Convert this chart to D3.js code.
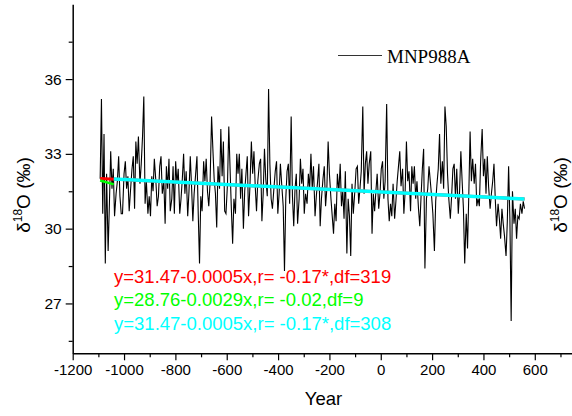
<!DOCTYPE html>
<html lang="en">
<head>
<meta charset="UTF-8">
<title>MNP988A</title>
<script src="https://cdn.jsdelivr.net/npm/d3@7/dist/d3.min.js"></script>
<style>
  body { margin: 0; background: #fff; }
  svg { display: block; }
</style>
</head>
<body>
<svg id="mainsvg" width="572" height="416"></svg>
<script>
// sample years
const years = [
  -1093,-1088,-1083,-1078,-1073,-1068, -1062,-1057,-1052,-1047,-1042,-1037,
  -1031,-1026,-1021,-1016,-1011,-1006, -1000,-995,-990,-985,-980,-975,
  -969,-964,-959,-954,-949,-944, -938,-933,-928,-923,-918,-913,
  -907,-902,-897,-892,-887,-882, -876,-871,-866,-861,-856,-851,
  -845,-840,-835,-830,-825,-820, -814,-809,-804,-799,-794,-789,
  -783,-778,-773,-768,-763,-758, -752,-747,-742,-737,-732,-727,
  -721,-716,-711,-706,-701,-696, -690,-685,-680,-675,-670,-665,
  -659,-654,-649,-644,-639,-634, -628,-623,-618,-613,-608,-603,
  -597,-592,-587,-582,-577,-572, -566,-561,-556,-551,-546,-541,
  -535,-530,-525,-520,-515,-510, -504,-499,-494,-489,-484,-479,
  -473,-468,-463,-458,-453,-448, -442,-437,-432,-427,-422,-417,
  -411,-406,-401,-396,-391,-386, -380,-375,-370,-365,-360,-355,
  -349,-344,-339,-334,-329,-324, -318,-313,-308,-303,-298,-293,
  -287,-282,-277,-272,-267,-262, -256,-251,-246,-241,-236,-231,
  -225,-220,-215,-210,-205,-200, -194,-189,-184,-179,-174,-169,
  -163,-158,-153,-148,-143,-138, -132,-127,-122,-117,-112,-107,
  -101,-96,-91,-86,-81,-76, -70,-65,-60,-55,-50,-45,
  -39,-34,-29,-24,-19,-14, -8,-3,2,7,12,17,
  23,28,33,38,43,48, 54,59,64,69,74,79,
  85,90,95,100,105,110, 116,121,126,131,136,141,
  147,152,157,162,167,172, 178,183,188,193,198,203,
  209,214,219,224,229,234, 240,245,250,255,260,265,
  271,276,281,286,291,296, 302,307,312,317,322,327,
  333,338,343,348,353,358, 364,369,374,379,384,389,
  395,400,405,410,415,420, 426,431,436,441,446,451,
  457,462,467,472,477,482, 488,493,498,503,508,513,
  519,524,529,534,539,544, 550,555,560
]

// d18O values (per mil)
const d18O = [
  32.0, 35.2, 30.6, 33.8, 28.6, 32.2, 29.1, 31.0, 33.1, 31.6,
  32.4, 30.5, 31.4, 31.9, 32.9, 31.3, 30.6, 30.6, 32.2, 32.7,
  31.6, 32.1, 30.7, 31.5, 32.4, 32.9, 30.8, 33.5, 32.6, 33.7,
  31.8, 32.6, 33.7, 35.3, 31.0, 31.9, 30.6, 31.3, 30.5, 32.1,
  31.5, 32.8, 31.9, 30.9, 31.3, 32.5, 32.9, 31.4, 31.9, 30.2,
  32.5, 31.6, 32.8, 30.7, 31.2, 32.5, 30.6, 32.7, 31.8, 32.4,
  30.6, 31.2, 32.0, 33.0, 31.4, 32.3, 30.5, 31.5, 32.9, 31.7,
  30.3, 31.4, 32.2, 32.9, 30.6, 28.6, 31.3, 30.7, 32.7, 31.9,
  32.8, 31.5, 30.9, 31.8, 34.5, 33.2, 32.0, 31.4, 30.05, 32.5,
  31.6, 34.0, 32.1, 33.5, 30.7, 30.6, 31.8, 34.1, 32.4, 30.8,
  29.4, 31.2, 30.6, 33.0, 32.2, 33.0, 31.2, 32.4, 30.0, 31.5,
  32.2, 32.9, 30.5, 31.6, 33.5, 32.2, 33.1, 31.7, 30.7, 31.9,
  32.6, 32.8, 30.3, 31.4, 33.2, 32.0, 31.3, 35.6, 32.6, 31.2,
  30.8, 31.5, 32.3, 32.7, 30.6, 31.4, 32.6, 31.8, 30.9, 28.3,
  31.2, 32.3, 32.6, 31.0, 34.5, 31.3, 30.1, 31.6, 32.2, 30.2,
  31.2, 32.8, 31.8, 32.4, 30.6, 31.4, 31.0, 32.2, 31.6, 33.0,
  31.6, 32.5, 30.5, 31.3, 31.9, 32.6, 30.1, 31.2, 32.0, 32.5,
  30.9, 31.6, 33.5, 32.2, 31.2, 30.5, 29.8, 31.0, 30.3, 32.2,
  31.5, 32.6, 30.9, 31.5, 30.4, 32.3, 29.0, 31.2, 30.5, 28.9,
  31.8, 30.6, 31.5, 32.4, 32.5, 31.0, 31.6, 32.3, 34.9, 31.4,
  32.6, 33.1, 31.8, 32.6, 33.1, 29.8, 31.4, 30.7, 31.5, 32.2,
  30.8, 31.4, 32.4, 32.7, 31.2, 31.9, 35.0, 31.2, 30.3, 31.0,
  30.5, 31.8, 30.4, 31.1, 31.9, 32.5, 33.1, 31.7, 32.4, 30.6,
  31.5, 33.5, 31.9, 32.3, 30.7, 32.5, 31.8, 32.5, 31.2, 31.9,
  30.8, 30.1, 31.3, 32.4, 33.2, 28.4, 31.2, 31.6, 32.5, 31.9,
  31.3, 30.6, 29.1, 31.1, 31.8, 32.4, 33.8, 31.8, 32.7, 31.6,
  34.9, 34.1, 32.2, 31.2, 30.4, 31.3, 32.4, 32.6, 31.2, 32.4,
  30.6, 31.5, 33.1, 31.9, 30.8, 28.6, 30.6, 29.2, 31.4, 33.9,
  31.9, 32.8, 31.8, 32.6, 30.9, 31.2, 30.9, 32.7, 34.0, 32.1,
  32.8, 31.4, 32.9, 31.7, 30.8, 31.4, 31.9, 32.6, 31.2, 30.1,
  31.0, 30.4, 29.6, 30.8, 30.2, 29.7, 28.9, 30.3, 32.5, 30.4,
  26.3, 31.5, 30.2, 30.8, 29.6, 30.5, 30.4, 31.0, 30.6, 31.1,
  30.8
]

// linear fits: y = a + b*x over [from, to]
const fitLabels = [
  'y=31.47-0.0005x,r= -0.17*,df=319',
  'y=28.76-0.0029x,r= -0.02,df=9',
  'y=31.47-0.0005x,r= -0.17*,df=308'
]
const fitIntercepts = [31.47, 28.76, 31.47]
const fitSlopes = [-0.0005, -0.0029, -0.0005]
const fitFrom = [-1093, -1093, -1040]
const fitTo = [560, -1040, 560]

const xTickValues = [-1200, -1000, -800, -600, -400, -200, 0, 200, 400, 600]
const xMinorValues = [-1100, -900, -700, -500, -300, -100, 100, 300, 500, 700]
const yTickValues = [27, 30, 33, 36]
const yMinorValues = [25.5, 28.5, 31.5, 34.5, 37.5]
const seriesName = 'MNP988A'

const fitColors = ['#ff0000', '#00ff00', '#00ffff']
const fitWidths = [3, 2.5, 3.5]
const sans = "'Liberation Sans', Arial, sans-serif"
const serif = "'Liberation Serif', 'Times New Roman', serif"

const svg = d3.select('#mainsvg')

const xScale = d3.scaleLinear().domain([-1200, 750]).range([72.7, 573.3])
const yScale = d3.scaleLinear().domain([25, 39]).range([353.3, 4.3])

// axes
const xAxis = d3.axisBottom(xScale).tickValues(xTickValues)
  .tickSize(7).tickSizeOuter(0).tickPadding(4).tickFormat(d3.format('d'))
const gx = svg.append('g').attr('transform', `translate(0,${yScale(25)})`).call(xAxis)
svg.append('g').attr('transform', `translate(0,${yScale(25)})`)
  .call(d3.axisBottom(xScale).tickValues(xMinorValues).tickSize(4).tickSizeOuter(0).tickFormat(''))
  .select('.domain').remove()

const yAxis = d3.axisLeft(yScale).tickValues(yTickValues)
  .tickSize(7).tickSizeOuter(0).tickPadding(4)
const gy = svg.append('g').attr('transform', `translate(${xScale(-1200)},0)`).call(yAxis)
svg.append('g').attr('transform', `translate(${xScale(-1200)},0)`)
  .call(d3.axisLeft(yScale).tickValues(yMinorValues).tickSize(4).tickSizeOuter(0).tickFormat(''))
  .select('.domain').remove()

svg.selectAll('.domain').attr('stroke', '#000').attr('stroke-width', 1.5)
svg.selectAll('.tick line').attr('stroke', '#000').attr('stroke-width', 1.2)
gx.selectAll('.tick text').attr('font-family', sans).attr('font-size', '15px').attr('fill', '#000')
  .text(d => d < 0 ? '-' + Math.abs(d) : d)
gy.selectAll('.tick text').attr('font-family', sans).attr('font-size', '15.5px').attr('fill', '#000')

// series
const series = years.map((y, i) => ({ year: y, v: d18O[i] }))
const line = d3.line().x(d => xScale(d.year)).y(d => yScale(d.v))
svg.append('path').datum(series)
  .attr('d', line)
  .attr('fill', 'none')
  .attr('stroke', '#000')
  .attr('stroke-width', 1.1)

// fit lines
fitIntercepts.forEach((a, i) => {
  const pts = [fitFrom[i], fitTo[i]].map(x => ({ year: x, v: a + fitSlopes[i] * x }))
  svg.append('path').datum(pts)
    .attr('d', line)
    .attr('fill', 'none')
    .attr('stroke', fitColors[i])
    .attr('stroke-width', fitWidths[i])
})

// equations
fitLabels.forEach((t, i) => {
  svg.append('text').text(t)
    .attr('x', 114).attr('y', 282.5 + i * 23.5)
    .attr('font-family', sans).attr('font-size', '18.5px')
    .attr('fill', fitColors[i])
})

// legend
svg.append('line').attr('x1', 338).attr('x2', 382).attr('y1', 55.5).attr('y2', 55.5)
  .attr('stroke', '#333').attr('stroke-width', 1)
svg.append('text').text(seriesName)
  .attr('x', 387).attr('y', 62.5)
  .attr('font-family', serif).attr('font-size', '19px').attr('fill', '#000')

// axis titles
svg.append('text').text('Year')
  .attr('x', 323.5).attr('y', 405)
  .attr('text-anchor', 'middle')
  .attr('font-family', sans).attr('font-size', '18.5px')

function yTitle(x) {
  const t = svg.append('text')
    .attr('transform', `translate(${x},195) rotate(-90)`)
    .attr('text-anchor', 'middle')
    .attr('font-family', sans).attr('font-size', '19px').attr('fill', '#000')
  t.append('tspan').text('δ')
  t.append('tspan').text('18').attr('font-size', '12px').attr('dy', -8)
  t.append('tspan').text('O (‰)').attr('dy', 8)
}
yTitle(30)
yTitle(567)
</script>
</body>
</html>
